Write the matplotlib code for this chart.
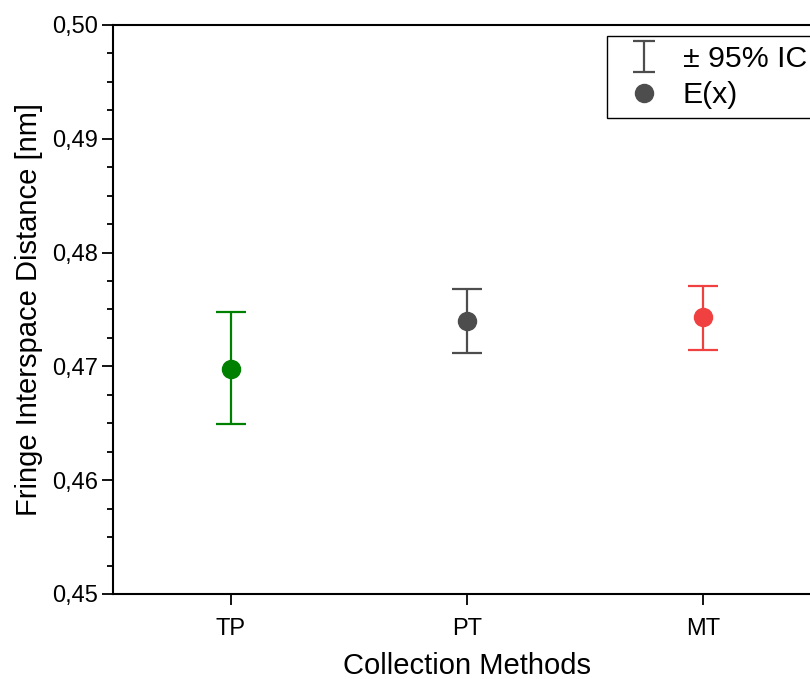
import matplotlib.pyplot as plt
from matplotlib.lines import Line2D
from matplotlib.ticker import MultipleLocator, FuncFormatter

plt.rcParams["font.family"] = ["Liberation Sans", "DejaVu Sans"]

methods = ["TP", "PT", "MT"]
means = [0.4698, 0.4740, 0.4743]
ci_low = [0.4649, 0.4712, 0.4714]
ci_high = [0.4748, 0.4768, 0.4771]
colors = ["#008000", "#4d4d4d", "#f04040"]

fig = plt.figure(figsize=(8.1, 6.79), dpi=100)
ax = fig.add_axes([0.1395, 0.1252, 0.874, 0.838])

x = list(range(1, len(methods) + 1))
for xi, m, lo, hi, c in zip(x, means, ci_low, ci_high, colors):
    ax.errorbar(xi, m, yerr=[[m - lo], [hi - m]], fmt="o", color=c,
                markersize=13, elinewidth=1.6, capsize=10.8, capthick=1.6)

# legend handles (dummy bar outside the visible range)
eb = ax.errorbar([-10], [0.47], yerr=[0.005], fmt="none", color="#4d4d4d",
                 elinewidth=1.6, capsize=8, capthick=1.6, label="± 95% IC")
dot = Line2D([], [], linestyle="none", marker="o", markersize=13,
             color="#4d4d4d", label="E(x)")
leg = ax.legend(handles=[eb, dot], loc="upper left",
                bbox_to_anchor=(0.6977, 0.9807), fontsize=21.8,
                frameon=True, fancybox=False, edgecolor="black",
                framealpha=1, borderaxespad=0, handlelength=1.85,
                handletextpad=0.36, labelspacing=0.27, borderpad=0.3)
leg.get_frame().set_linewidth(1.0)

ax.set_xlim(0.5, 3.5)
ax.set_ylim(0.45, 0.50)
ax.set_xticks(x)
ax.set_xticklabels(methods)
ax.yaxis.set_major_locator(MultipleLocator(0.01))
ax.yaxis.set_minor_locator(MultipleLocator(0.0025))
ax.yaxis.set_major_formatter(FuncFormatter(lambda v, p: f"{v:.2f}".replace(".", ",")))

ax.tick_params(axis="both", which="major", direction="out", length=8,
               width=1.3, labelsize=17)
ax.tick_params(axis="x", which="major", pad=9)
ax.tick_params(axis="y", which="major", pad=3)
ax.tick_params(axis="y", which="minor", direction="out", length=4, width=1.3)
for s in ax.spines.values():
    s.set_linewidth(1.5)

ax.set_xlabel("Collection Methods", fontsize=21, labelpad=9)
ax.set_ylabel("Fringe Interspace Distance [nm]", fontsize=21, labelpad=6)

fig.savefig("out.png", dpi=100)
